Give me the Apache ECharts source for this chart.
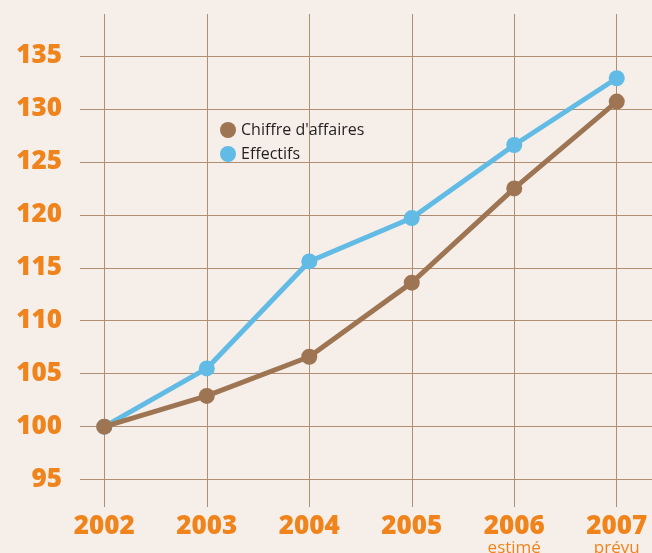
<!DOCTYPE html>
<html>
<head>
<meta charset="utf-8">
<script src="https://cdn.jsdelivr.net/npm/echarts@6/dist/echarts.min.js"></script>
<style>
  html, body { margin: 0; padding: 0; background: #f5eee9; }
  #chart { width: 652px; height: 553px; }
</style>
</head>
<body>
<div id="chart"></div>
<script>
const years = [2002, 2003, 2004, 2005, 2006, 2007]
const yearNotes = { 2006: 'estimé', 2007: 'prévu' }
const yTicks = [95, 100, 105, 110, 115, 120, 125, 130, 135]
const chiffreAffaires = [100, 102.9, 106.6, 113.6, 122.5, 130.7]
const effectifs = [100, 105.5, 115.6, 119.7, 126.6, 132.9]

const orange = '#f0841c'
const gridColor = '#b08e72'

const chart = echarts.init(document.getElementById('chart'))

const option = {
  backgroundColor: '#f5eee9',
  animation: false,
  legend: {
    orient: 'vertical',
    left: 215,
    top: 117,
    icon: 'circle',
    itemWidth: 16,
    itemHeight: 16,
    itemGap: 8,
    textStyle: { fontFamily: 'Open Sans', fontSize: 16, color: '#231f20' },
    data: ['Chiffre d\'affaires', 'Effectifs']
  },
  grid: { left: 80, right: 0, top: 14, bottom: 46, outerBoundsMode: 'none' },
  xAxis: {
    type: 'value',
    min: 2001.763,
    max: 2007.344,
    axisLine: { show: false },
    axisTick: { show: false, customValues: years },
    splitLine: { show: true, lineStyle: { color: gridColor, width: 1 } },
    axisLabel: {
      customValues: years,
      margin: 7,
      formatter: (v) => {
        const note = yearNotes[v]
        return note ? `{y|${v}}\n{s|${note}}` : `{y|${v}}`
      },
      verticalAlign: 'top',
      rich: {
        y: { fontFamily: 'Open Sans', fontWeight: 800, fontSize: 26, color: orange, lineHeight: 26 },
        s: { fontFamily: 'Open Sans', fontSize: 17, color: orange, lineHeight: 16 }
      }
    }
  },
  yAxis: {
    type: 'value',
    min: 92.41,
    max: 138.97,
    axisLine: { show: false },
    axisTick: { show: false, customValues: yTicks },
    splitLine: { show: true, lineStyle: { color: gridColor, width: 1 } },
    axisLabel: {
      customValues: yTicks,
      margin: 18,
      fontFamily: 'Open Sans',
      fontWeight: 800,
      fontSize: 26,
      color: orange,
      padding: [0, 0, 3, 0]
    }
  },
  series: [
    {
      name: 'Chiffre d\'affaires',
      type: 'line',
      data: years.map((y, i) => [y, chiffreAffaires[i]]),
      symbol: 'circle',
      symbolSize: 16,
      itemStyle: { color: '#9e7553' },
      lineStyle: { width: 5, color: '#9e7553' },
      z: 3
    },
    {
      name: 'Effectifs',
      type: 'line',
      data: years.map((y, i) => [y, effectifs[i]]),
      symbol: 'circle',
      symbolSize: 16,
      itemStyle: { color: '#62bbe5' },
      lineStyle: { width: 5, color: '#62bbe5' },
      z: 2
    }
  ]
}

chart.setOption(option)
</script>
</body>
</html>
